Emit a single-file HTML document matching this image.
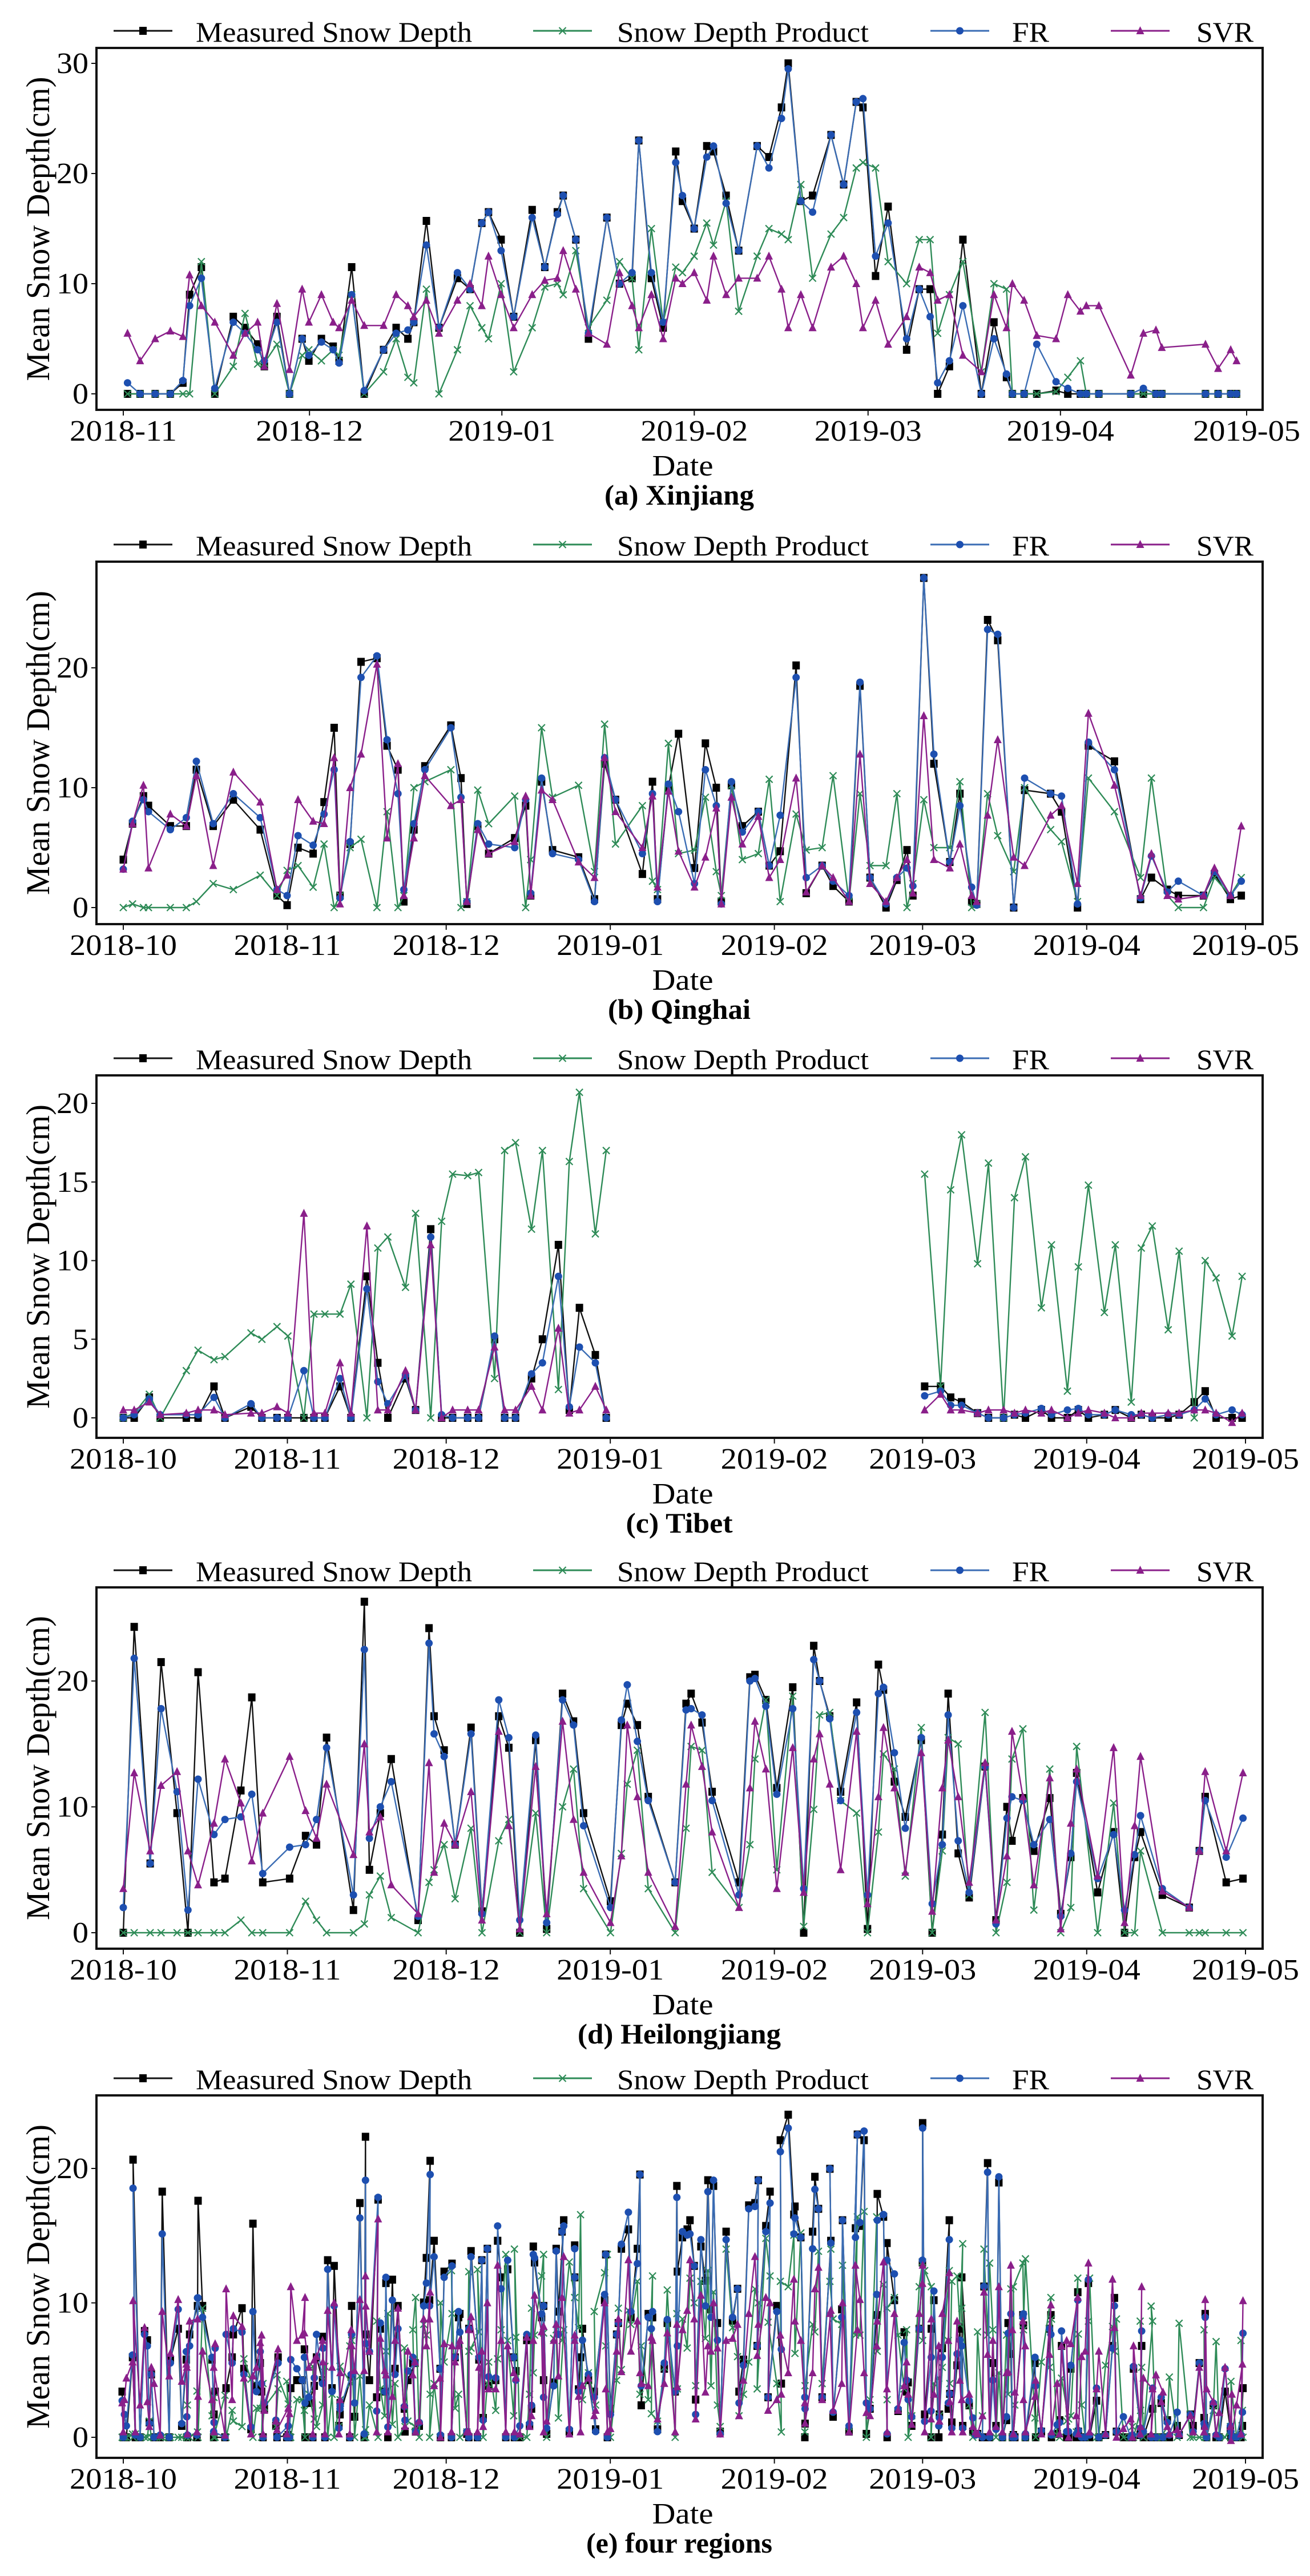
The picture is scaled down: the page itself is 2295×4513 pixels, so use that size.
<!DOCTYPE html>
<html><head><meta charset="utf-8"><style>html,body{margin:0;padding:0;background:#fff}svg{display:block}</style></head>
<body>
<svg id="s" xmlns="http://www.w3.org/2000/svg" width="2295" height="4513" viewBox="0 0 2295 4513"></svg>
<script>
const A=[[152,0,0,5.5,1],[167,0,0,3,0],[185,0,0,5,0],[203,0,0,5.7,0],[218,1,0,5.2,1.2],[226,9,0,10.8,8],[240,11.5,12,8,10.5],[256,0,0,6.5,0.5],[278,7,2.5,3.5,6.5],[292,6,7.3,5.5,5.5],[307,4.5,2.7,6.5,4],[315,2.5,2.8,2.5,3],[330,7,4.5,8.2,6.5],[345,0,0,2.2,0],[360,5,3.5,9.5,5],[368,3,4,6.5,3.5],[383,5,3,9,4.7],[397,4.3,4,6.5,4],[404,3,3.5,6,2.8],[419,11.5,9,8.5,9],[434,0,0,6.2,0.3],[457,4,2,6.2,4],[472,6,5,9,5.5],[486,5,1.5,8,5.8],[493,6.5,1,7,6.5],[508,15.7,9.5,8.5,13.5],[523,6,0,5.5,6],[545,10.5,4,8.5,11],[560,9.5,8,10,9.5],[574,15.5,6,8,15.5],[582,16.5,5,12.5,16.5],[597,14,10,9,13],[612,7,2,6,7],[634,16.7,6,9,16],[649,11.5,9.7,10.3,11.5],[664,16.5,10,10.5,16.3],[671,18,9,13,18],[686,14,13,9.5,14],[701,5,6,5.5,5.5],[723,16,8.5,4.5,16],[738,10,12,11,10],[753,10.5,10.5,8,11],[761,23,4,6,23],[776,10.5,15,9,11],[790,6,6.5,5,6.5],[805,22,11.5,10.5,21],[813,17.5,11,10,18],[827,15,12.5,11,15],[842,22.5,15.5,8.5,21.5],[850,22,13.5,12.5,22.5],[865,18,17.5,9,17.3],[880,13,7.5,10.5,13],[902,22.5,12.5,10.5,22.5],[916,21.5,15,12.5,20.5],[931,26,14.5,9.5,25],[939,30,14,6,29.5],[954,17.5,19,9,17.5],[968,18,10.5,6,16.5],[990,23.5,14.5,11.5,23.5],[1005,19,16,12.5,19],[1020,26.5,20.5,10,26.5],[1028,26,21,6,26.8],[1043,10.7,20.5,8.5,12.5],[1058,17,12,4.5,15.5],[1080,4,10,7,5],[1095,9.5,14,11.5,9.5],[1108,9.5,14,11,7],[1117,0,5.5,8.5,1],[1131,2.5,9,9,3],[1147,14,12,3.5,8],[1169,0,2,2,0],[1184,6.5,10,9,5],[1199,1.5,9.5,6,1.8],[1206,0,0,10,0],[1220,0,0,8.5,0],[1235,0,0,5.3,4.5],[1258,0.3,0.2,5,1.1],[1272,0,1.5,9,0.5],[1287,0,3,7.5,0],[1294,0,0,8,0],[1309,0,0,8,0],[1347,0,0,1.7,0],[1362,0,0,5.5,0.5],[1377,0,0,5.8,0],[1384,0,0,4.2,0],[1436,0,0,4.5,0],[1451,0,0,2.3,0],[1466,0,0,4,0],[1473,0,0,3,0]];
const B=[[147,4,0,3.2,3.2],[158,7,0.3,7,7.2],[171,9.3,0,10.2,9],[177,8.5,0,3.3,8],[203,6.8,0,7.8,6.5],[222,6.8,0,6.8,7.5],[234,11.5,0.5,11,12.2],[254,6.8,2,3.5,7],[278,9,1.5,11.3,9.5],[310,6.5,2.7,8.8,7.5],[330,1,1,1.5,1.5],[342,0.2,3.1,2.7,1],[355,5,3.5,9,6],[373,4.5,1.7,7.2,5.2],[386,8.8,5.3,7,7.8],[398,15,0,12.5,11.5],[405,1,1,0.3,0.8],[417,5.3,5,10,5.5],[430,20.5,5.7,12.8,19.2],[449,20.8,0,20.3,21],[461,13.5,8,5.8,14],[474,11.5,0,12,9.5],[481,0.5,1,1,1.5],[493,6.5,10,5.8,7],[506,11.8,10.5,11,11.5],[537,15.2,11.5,8.5,15],[549,10.8,0,9,9.2],[556,0.3,0.5,0.5,0.5],[569,6.8,9.8,6.5,7],[582,4.5,7,4.5,5.3],[613,5.8,9.3,5.5,5],[626,8.5,0,9.3,9],[632,1,4,1,1.2],[645,10.5,15,9.8,10.8],[658,4.8,9.2,9,4.5],[689,4.2,10.2,3.8,4],[708,0.7,3,2.5,0.5],[720,12,15.3,12.5,12.5],[733,9,5.3,8,9],[765,2.8,8.5,5,4.5],[777,10.5,2.2,9.3,9.5],[783,0.7,1.5,1.7,0.5],[796,10,13.7,9.7,10.3],[808,14.5,4.5,4.7,8],[827,3.3,4.8,1.7,2],[840,13.7,9.2,4.2,11.5],[853,10,3,8.3,8.5],[859,0.5,1,0.3,0.3],[871,10.2,10.2,9.2,10.5],[884,6.8,4,5.3,6.3],[903,8,4.5,7.6,8],[916,3.5,10.7,2.5,3.5],[929,4.7,0.5,4,7.7],[948,20.2,7.8,10.8,19.2],[960,1.2,4.8,1.3,2.5],[979,3.5,5,3.5,3.5],[992,1.8,11,2.5,2.2],[1011,0.5,0.5,0.5,1],[1024,18.5,9.5,12.8,18.8],[1036,2.5,3.5,2,2.5],[1055,0,3.5,0.5,0.3],[1068,2.3,9.5,2.5,2.5],[1080,4.8,0,4,3.3],[1087,1,2,1.2,1.8],[1100,27.5,9,16,27.5],[1112,12,5,4,12.8],[1131,3.8,5,3.3,3.8],[1143,9.5,10.5,5.3,8.5],[1157,0.5,0,1,1.7],[1163,0.3,0.3,0.5,0.2],[1176,24,9.5,7.7,23.2],[1188,22.3,6,14,22.8],[1207,0,3,4.2,0],[1220,9.8,10,3.5,10.8],[1251,9.5,6.5,7.7,9.5],[1264,8,5.5,8.5,9.3],[1283,0,0.5,2,0.3],[1296,13.5,10.8,16.2,13.8],[1327,12.2,8,10.2,11.5],[1358,0.7,2.5,1,0.8],[1371,2.5,10.8,4.5,4.3],[1390,1.5,1,1,1.3],[1403,1,0,0.7,2.2],[1433,1,0,1,1],[1446,2.8,2.5,3.3,3],[1465,0.7,1,1,1],[1478,1,2.5,6.8,2.2]];
const C1=[[147,0,0,0.5,0],[160,0,0.3,0.5,0.2],[178,1.3,1.5,1,1.2],[191,0,0,0.2,0.2],[222,0,3,0.3,0.2],[236,0,4.3,0.5,0.2],[255,2,3.7,0.5,1.3],[268,0,3.9,0.2,0],[299,0.7,5.4,0.3,0.9],[312,0,5,0.3,0],[330,0,5.8,0.7,0],[343,0,5.2,0.3,0],[362,0,0,13,3],[374,0,6.6,0.3,0],[387,0,6.6,0.3,0],[405,2,6.6,3.5,2.5],[418,0,8.5,0.3,0],[437,9,0,12.2,8.2],[450,3.5,10.8,0.5,2.3],[462,0,11.5,0.5,0.9],[483,2.5,8.3,3,2.7],[495,0.5,13,0.5,0.5],[513,12,0,11,11.5],[526,0,12.5,0,0.2],[539,0,15.5,0.5,0],[557,0,15.4,0.5,0],[570,0,15.6,0.5,0],[589,5,2.5,4.5,5.2],[601,0,17,0.5,0],[614,0,17.5,0.5,0],[633,2.5,12,2,2.8],[646,5,17,0.5,3.5],[665,11,1.8,5.7,9],[678,0.5,16.3,0.3,0.7],[690,7,20.7,0.5,4.5],[709,4,11.7,2,3.5],[722,0,17,0.5,0]];
const C2=[[1101,2,15.5,0.5,1.4],[1120,2,2,1.5,1.7],[1132,1.3,14.5,0.5,0.8],[1145,1,18,0.5,0.8],[1164,0.3,9.8,0.3,0.3],[1177,0,16.2,0.5,0],[1195,0,0,0.5,0],[1208,0.2,14,0.3,0.2],[1221,0,16.6,0.5,0.3],[1240,0.5,7,0.3,0.6],[1252,0,11,0.5,0.2],[1271,0,1.7,0,0.5],[1284,0.5,9.6,0.3,0.6],[1296,0,14.8,0.5,0.2],[1315,0.2,6.7,0.3,0.2],[1328,0.5,11,0,0.5],[1347,0,1,0,0.2],[1359,0.2,10.8,0.3,0.2],[1372,0,12.2,0.3,0],[1391,0,5.6,0.3,0.2],[1404,0.2,10.6,0.3,0.2],[1422,1,0,0.5,0.5],[1435,1.7,10,0.5,1.2],[1448,0,8.9,0.3,0.2],[1467,0,5.2,-0.3,0.5],[1479,0,9,0.3,0.2]];
const D=[[147,0,0,3.5,2],[160,24.3,0,12.7,21.8],[179,5.5,0,6.5,5.5],[192,21.5,0,11.7,17.8],[211,9.5,0,12.8,11.2],[224,0,0,6.5,1.8],[236,20.7,0,3.8,12.2],[255,4,0,8.7,7.8],[268,4.3,0,13.8,9],[287,11.3,1,10.3,9.2],[300,18.7,0,5.7,11],[313,4,0,9.5,4.7],[345,4.3,0,14,6.8],[364,7.7,2.5,9.7,7],[377,7,1,7.5,9],[389,15.5,0,11.8,14.7],[421,1.8,0,6.2,3],[434,26.3,0.7,15,22.5],[440,5,3,8,7.5],[453,9.5,4.5,9.2,10],[466,13.8,1.2,3.8,12],[498,1,0,1.5,1.3],[511,24.2,4,13.5,23],[517,17.2,5,4.8,15.8],[529,14.5,7,8.7,14],[542,7,2.7,7,7],[561,16.3,8.3,11.2,15.8],[574,1.7,0,1,1.5],[594,17.2,7.3,16,18.5],[606,14.7,9,8.5,15.5],[619,0,0,0.3,1],[638,15.3,9.5,13.2,15.7],[651,0.3,0,1.5,0.8],[670,19,10,16.8,18.5],[683,16.8,13,9,16.5],[695,9.5,3.5,4.8,8.5],[727,2.5,0,0.8,2],[740,16.5,6.3,6.1,16.9],[747,18.2,11.8,16.5,19.7],[759,16.5,14.5,10.8,15.2],[772,10.8,3.5,4.8,10.5],[804,4,0,0.5,4],[817,18.2,8.3,11.8,17.7],[823,19,14.8,16.5,17.8],[836,16.7,14.5,13.2,17.3],[848,11.2,4.8,8,10.5],[880,4,2,2,3],[893,20.3,7,11.5,20],[899,20.5,13.8,16.8,20.2],[912,18.5,18.5,13,18],[925,11.5,5,3.5,11],[944,19.5,18.8,14.7,17.8],[957,0,0.5,3.2,3.5],[969,22.8,9.8,13.8,21.7],[976,20,17.3,15.8,20],[988,17.2,17.5,11.8,17],[1001,11.2,10.5,5,10.5],[1020,18.3,9.5,16,17.5],[1033,0.3,0,2.3,3],[1046,21.3,8,10.8,19],[1052,19.3,14.2,16.3,19.5],[1065,12,13,11.5,14.3],[1078,9.2,4.5,4.8,8.3],[1097,15.3,16.3,14.3,15.5],[1110,0,0,1.7,2.3],[1122,7.8,6.5,11.5,7],[1129,19,15.5,15.3,17.3],[1141,6.3,15,10.8,7.3],[1154,2.8,3,4,3.2],[1173,13.2,17.5,13.5,13.2],[1186,1,0,1,0.7],[1199,10,4,6.1,9.1],[1205,7.3,13.8,16,10.8],[1218,10.7,16.2,10.8,10.5],[1231,6.5,1.8,3.8,7],[1250,10.7,13,12.3,9],[1263,1.5,0,0.3,1.3],[1275,6,2,8.7,6.3],[1282,12.7,14.8,13,12],[1307,3.2,0,4.5,4.3],[1326,8,10.3,14.7,7.8],[1339,0,0,0.8,1.8],[1351,6,0,8.5,6.2],[1358,8,6.5,14,9.3],[1384,3,0,3.3,3.5],[1416,2,0,2,2],[1428,6.5,0,6.5,6.5],[1435,10.8,0,12.8,10.5],[1460,4,0,6.5,6],[1480,4.3,0,12.7,9.1]];
const W=1966/212;
const oct=xz=>216+(xz-147)/(1483-147)*1966;
const nov=xz=>216+(xz-147)/(1485-147)*1968;
let E=[];
[[A,nov],[B,oct],[C1,oct],[C2,oct],[D,oct]].forEach(([arr,f])=>arr.forEach(p=>E.push([f(p[0]),p[1],p[2],p[3],p[4]])));
E.sort((a,b)=>a[0]-b[0]);
E=E.map((p,i)=>[p[0]+((i%3)-1)*2,Math.min(p[1]*0.85,24),p[2]*0.8,p[3]*0.8,Math.min(p[4]*0.85,23)]);
const panels=[
 {top:84,bot:718,y0:690,k:19.3,ticks:[0,10,20,30],nov:true,title:"(a) Xinjiang",tw:262,segs:[A.map(p=>[nov(p[0]),...p.slice(1)])]},
 {top:984,bot:1619,y0:1590,k:21.0,ticks:[0,10,20],title:"(b) Qinghai",tw:250,segs:[B.map(p=>[oct(p[0]),...p.slice(1)])]},
 {top:1884,bot:2519,y0:2484,k:27.55,ticks:[0,5,10,15,20],title:"(c) Tibet",tw:187,segs:[C1.map(p=>[oct(p[0]),...p.slice(1)]),C2.map(p=>[oct(p[0]),...p.slice(1)])]},
 {top:2781,bot:3414,y0:3386,k:22.05,ticks:[0,10,20],title:"(d) Heilongjiang",tw:356,segs:[D.map(p=>[oct(p[0]),...p.slice(1)])]},
 {top:3671,bot:4306,y0:4270,k:23.55,ticks:[0,10,20],title:"(e) four regions",tw:326,segs:[E]}
];
const L=169,R=2212;
const col={m:"#111",p:"#2e8b57",f:"#3a6cb4",fm:"#1d4fb0",s:"#8a1f8a"};
let o=[];
function mk(t,x,y){
 if(t==0)return `<rect x="${x-6.5}" y="${y-7}" width="13" height="14" fill="#000"/>`;
 if(t==1)return `<path d="M${x-6} ${y-6}L${x+6} ${y+6}M${x-6} ${y+6}L${x+6} ${y-6}" stroke="${col.p}" stroke-width="2.2"/>`;
 if(t==2)return `<circle cx="${x}" cy="${y}" r="6.5" fill="${col.fm}"/>`;
 return `<path d="M${x} ${y-8}L${x+7} ${y+6}L${x-7} ${y+6}Z" fill="${col.s}"/>`;
}
const lc=[col.m,col.p,col.f,col.s];
const F='font-family="Liberation Serif, serif"';
panels.forEach(P=>{
 const Y=v=>P.y0-v*P.k;
 const ly=P.top-30, lb=P.top-11;
 const leg=[[199,302,343,484,"Measured Snow Depth"],[934,1037,1081,441,"Snow Depth Product"],[1630,1733,1773,65,"FR"],[1946,2049,2096,100,"SVR"]];
 leg.forEach((g,i)=>{o.push(`<line x1="${g[0]}" y1="${ly}" x2="${g[1]}" y2="${ly}" stroke="${lc[i]}" stroke-width="3"/>`+mk(i,(g[0]+g[1])/2,ly));
  o.push(`<text x="${g[2]}" y="${lb}" ${F} font-size="50" textLength="${g[3]}" lengthAdjust="spacingAndGlyphs">${g[4]}</text>`);});
 P.segs.forEach(seg=>{
  for(let t=0;t<4;t++){
   const idx=[1,2,4,3][t];
   o.push(`<polyline fill="none" stroke="${lc[t]}" stroke-width="2.4" stroke-linejoin="round" points="${seg.map(p=>p[0].toFixed(1)+","+Y(p[idx]).toFixed(1)).join(" ")}"/>`);
   o.push(seg.map(p=>mk(t,+p[0].toFixed(1),+Y(p[idx]).toFixed(1))).join(""));
  }
 });
 o.push(`<rect x="${L}" y="${P.top}" width="${R-L}" height="${P.bot-P.top}" fill="none" stroke="#111" stroke-width="4"/>`);
 P.ticks.forEach(v=>{const y=Y(v);o.push(`<line x1="${L-9}" y1="${y}" x2="${L}" y2="${y}" stroke="#111" stroke-width="2"/>`);
  const s=String(v);o.push(`<text x="${L-14}" y="${y+17}" text-anchor="end" ${F} font-size="52" textLength="${s.length*28}" lengthAdjust="spacingAndGlyphs">${s}</text>`);});
 const labs=P.nov?["2018-11","2018-12","2019-01","2019-02","2019-03","2019-04","2019-05"]:["2018-10","2018-11","2018-12","2019-01","2019-02","2019-03","2019-04","2019-05"];
 const days=P.nov?[0,30,61,92,120,151,181]:[0,31,61,92,123,151,182,212];
 labs.forEach((l,i)=>{const x=P.nov?216+days[i]*1968/181:216+days[i]*W;
  o.push(`<line x1="${x}" y1="${P.bot}" x2="${x}" y2="${P.bot+10}" stroke="#111" stroke-width="2"/>`);
  o.push(`<text x="${x}" y="${P.bot+54}" text-anchor="middle" ${F} font-size="52" textLength="188" lengthAdjust="spacingAndGlyphs">${l}</text>`);});
 o.push(`<text x="1196" y="${P.bot+115}" text-anchor="middle" ${F} font-size="52" textLength="107" lengthAdjust="spacingAndGlyphs">Date</text>`);
 o.push(`<text x="1190" y="${P.bot+166}" text-anchor="middle" ${F} font-weight="bold" font-size="50" textLength="${P.tw}" lengthAdjust="spacingAndGlyphs">${P.title}</text>`);
 const cy=(P.top+P.bot)/2;
 o.push(`<text transform="translate(86 ${cy}) rotate(-90)" text-anchor="middle" ${F} font-size="58" textLength="533" lengthAdjust="spacingAndGlyphs">Mean Snow Depth(cm)</text>`);
});
document.getElementById("s").innerHTML=o.join("");
</script>
</body></html>
